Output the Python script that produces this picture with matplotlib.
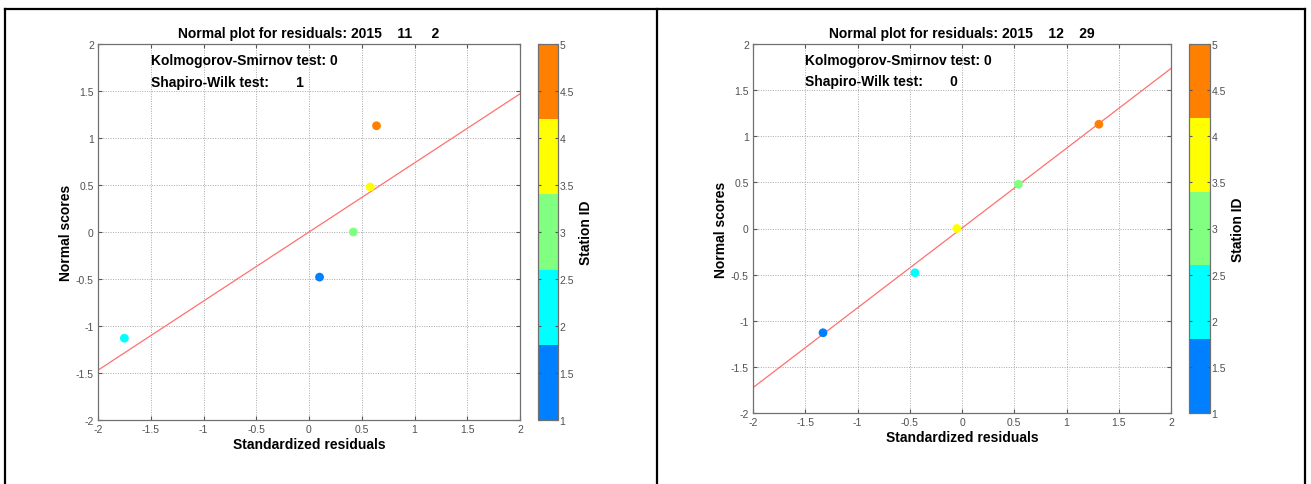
import matplotlib
matplotlib.use("Agg")
import matplotlib.pyplot as plt
from matplotlib.colors import ListedColormap
from matplotlib.lines import Line2D
import numpy as np

plt.rcParams['font.family'] = ['Liberation Sans', 'DejaVu Sans']

# ---- data ----
titles = ["Normal plot for residuals: 2015    11     2",
          "Normal plot for residuals: 2015    12    29"]
ks_results = [0, 0]
sw_results = [1, 0]
station_ids = [1, 2, 3, 4, 5]
resid_left = [0.10, -1.75, 0.42, 0.58, 0.64]
scores_left = [-0.48, -1.13, 0.00, 0.48, 1.13]
resid_right = [-1.33, -0.45, 0.54, -0.05, 1.31]
scores_right = [-1.13, -0.48, 0.48, 0.00, 1.13]
fit_left = (0.735, 0.0)    # slope, intercept
fit_right = (0.865, 0.005)
jet5 = ["#0080ff", "#00ffff", "#80ff80", "#ffff00", "#ff8000"]
ticks = [-2, -1.5, -1, -0.5, 0, 0.5, 1, 1.5, 2]
cbar_ticks = [1, 1.5, 2, 2.5, 3, 3.5, 4, 4.5, 5]

W, H = 1311, 485
fig = plt.figure(figsize=(W / 100, H / 100), dpi=100)

# table borders
for xp in [5, 657, 1305]:
    fig.add_artist(Line2D([xp / W, xp / W], [0, 1 - 10 / H], color='black', lw=1.6))
fig.add_artist(Line2D([5 / W, 1305 / W], [1 - 10 / H, 1 - 10 / H], color='black', lw=1.6))

cmap = ListedColormap(jet5)
norm = plt.Normalize(1, 5)

def fmt(v):
    return '%g' % v

panels = [
    dict(ax=[98, 45, 520, 421], cb=[538, 558], res=resid_left, sc=scores_left,
         fit=fit_left, title=titles[0], ks=ks_results[0], sw=sw_results[0]),
    dict(ax=[753, 45, 1171, 414], cb=[1189, 1210], res=resid_right, sc=scores_right,
         fit=fit_right, title=titles[1], ks=ks_results[1], sw=sw_results[1]),
]

tick_color = '#505050'
for p in panels:
    x0, y0, x1, y1 = p['ax']
    ax = fig.add_axes([x0 / W, 1 - y1 / H, (x1 - x0) / W, (y1 - y0) / H])
    ax.set_xlim(-2, 2)
    ax.set_ylim(-2, 2)
    ax.set_xticks(ticks)
    ax.set_yticks(ticks)
    ax.set_xticklabels([fmt(t) for t in ticks])
    ax.set_yticklabels([fmt(t) for t in ticks])
    ax.tick_params(direction='in', length=3, labelsize=7.5, colors='#555555',
                   top=True, right=True, pad=3)
    ax.tick_params(axis='both', labelcolor=tick_color)
    ax.grid(True, linestyle=(0, (1, 1.5)), color='#a8a8a8', lw=0.7)
    for s in ax.spines.values():
        s.set_color('#707070')
        s.set_linewidth(0.9)
    xs = np.array([-2, 2])
    m, b = p['fit']
    ax.plot(xs, m * xs + b, color='#ff7070', lw=0.9, zorder=2)
    ax.scatter(p['res'], p['sc'], c=station_ids, cmap=cmap, norm=norm, s=40,
               edgecolors='none', zorder=3)
    ax.set_title(p['title'], fontsize=10, fontweight='bold', pad=5)
    ax.set_xlabel('Standardized residuals', fontsize=10, fontweight='bold', labelpad=2)
    ax.set_ylabel('Normal scores', fontsize=10, fontweight='bold', labelpad=2)
    ax.text(-1.5, 1.83, 'Kolmogorov-Smirnov test: %d' % p['ks'], fontsize=10,
            fontweight='bold', va='center', ha='left')
    ax.text(-1.5, 1.6, 'Shapiro-Wilk test:       %d' % p['sw'], fontsize=10,
            fontweight='bold', va='center', ha='left')

    c0, c1 = p['cb']
    cax = fig.add_axes([c0 / W, 1 - y1 / H, (c1 - c0) / W, (y1 - y0) / H])
    sm = plt.cm.ScalarMappable(cmap=cmap, norm=norm)
    cb = fig.colorbar(sm, cax=cax, ticks=cbar_ticks)
    cb.ax.set_yticklabels([fmt(t) for t in cbar_ticks])
    cb.ax.tick_params(direction='in', length=2.5, labelsize=7.5, colors='#555555',
                      left=True, right=True, pad=1)
    cb.ax.tick_params(labelcolor=tick_color)
    cb.outline.set_edgecolor('#707070')
    cb.outline.set_linewidth(0.9)
    cb.set_label('Station ID', fontsize=10, fontweight='bold', labelpad=4)

fig.savefig('out.png', dpi=100)
